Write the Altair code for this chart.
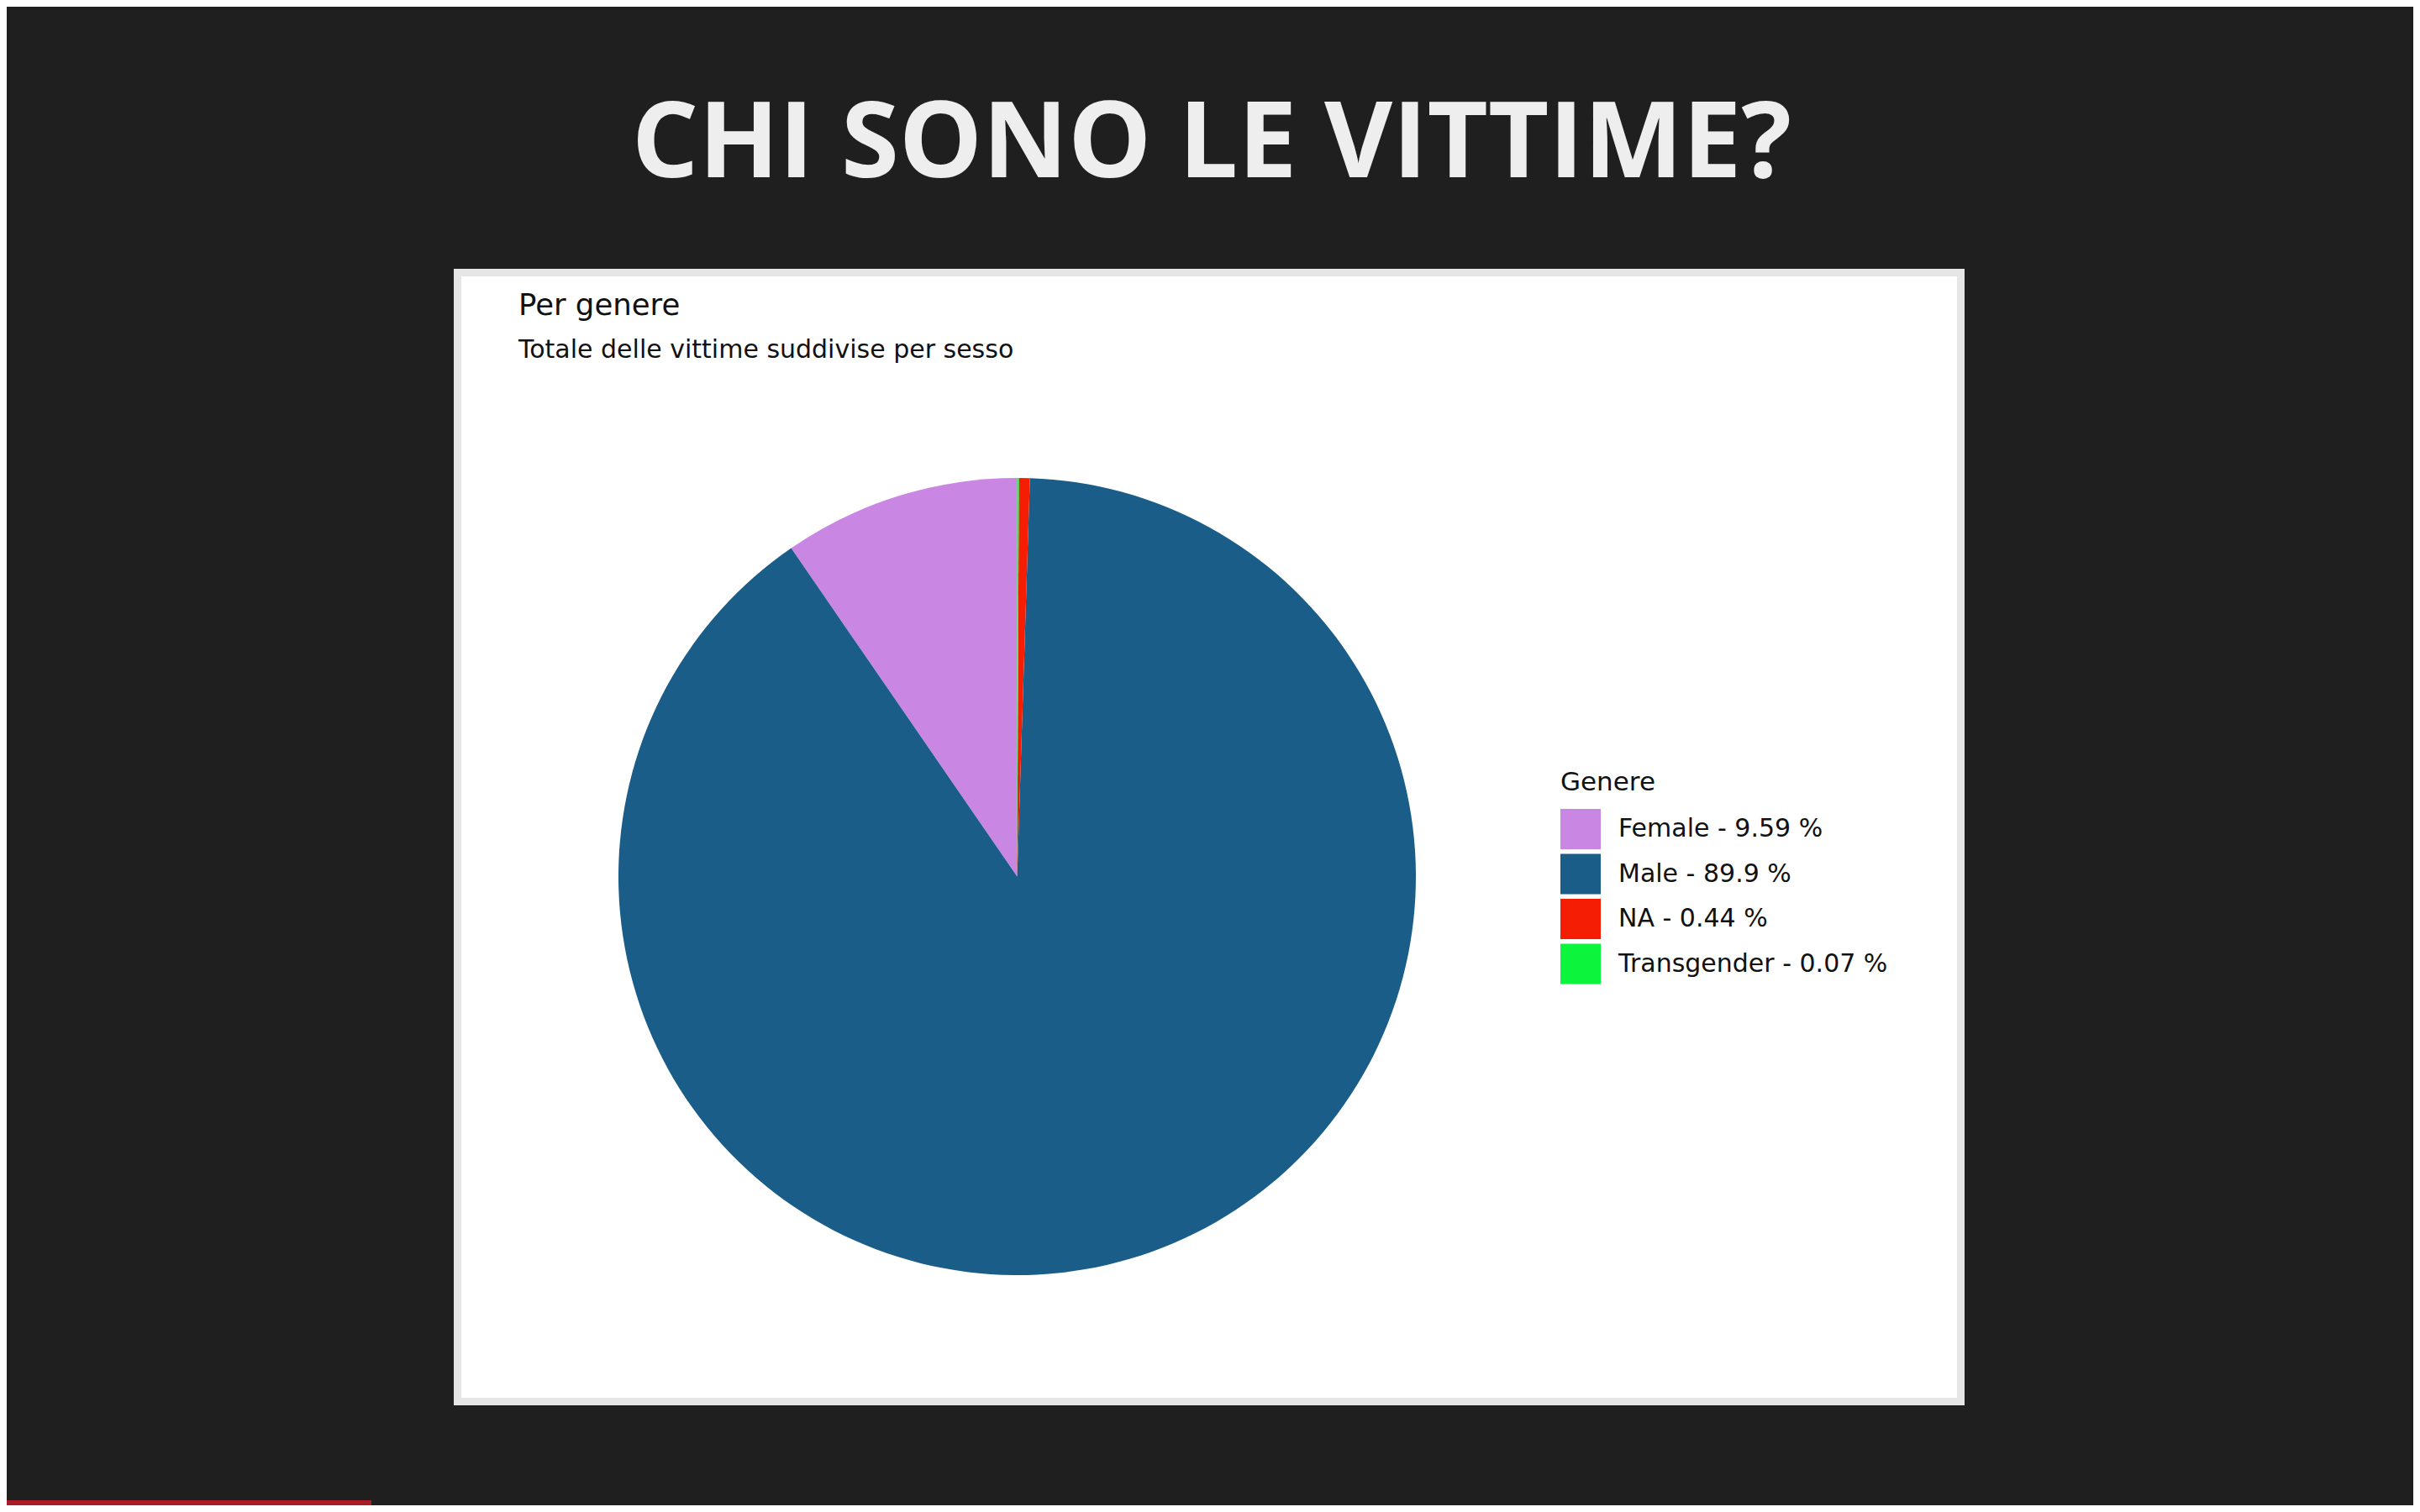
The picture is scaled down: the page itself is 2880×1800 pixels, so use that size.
import altair as alt
import pandas as pd

# ---- data ----
categories = ["Female", "Male", "NA", "Transgender"]
percents = [9.59, 89.9, 0.44, 0.07]
colors = ["#c987e3", "#1b5d89", "#f51e02", "#0cf53c"]
stack_order = [3, 2, 1, 0]  # clockwise from 12 o'clock: Transgender, NA, Male, Female

slide_title = "CHI SONO LE VITTIME?"
chart_title = "Per genere"
chart_subtitle = "Totale delle vittime suddivise per sesso"
legend_title = "Genere"

labels = [f"{c} - {p} %" for c, p in zip(categories, percents)]
df = pd.DataFrame({"cat": categories, "pct": percents, "label": labels, "ord": stack_order})

W, H = 2864, 1784
BG = "#1f1f1f"
one = pd.DataFrame({"k": [0]})

panel_border = alt.Chart(one).mark_rect(color="#e6e6e6").encode(
    x=alt.value(532), x2=alt.value(2330), y=alt.value(312), y2=alt.value(1665)
)
panel = alt.Chart(one).mark_rect(color="#ffffff").encode(
    x=alt.value(541), x2=alt.value(2321), y=alt.value(321), y2=alt.value(1656)
)
big_title = alt.Chart(one).mark_text(
    text=slide_title, font="Open Sans", fontWeight="bold", fontSize=125,
    color="#eeeeee", align="center", baseline="alphabetic"
).encode(x=alt.value(1434), y=alt.value(203))
p_title = alt.Chart(one).mark_text(
    text=chart_title, font="DejaVu Sans", fontSize=35.5, color="#111111",
    align="left", baseline="alphabetic"
).encode(x=alt.value(609), y=alt.value(367))
p_sub = alt.Chart(one).mark_text(
    text=chart_subtitle, font="DejaVu Sans", fontSize=30, color="#111111",
    align="left", baseline="alphabetic"
).encode(x=alt.value(609), y=alt.value(418))
progress = alt.Chart(one).mark_rect(color="#a81c27").encode(
    x=alt.value(0), x2=alt.value(434), y=alt.value(1778), y2=alt.value(1784)
)

pie = alt.Chart(df).mark_arc(radius=474.5, strokeWidth=0).encode(
    theta=alt.Theta("pct:Q", stack=True),
    order=alt.Order("ord:Q"),
    color=alt.Color(
        "label:N",
        scale=alt.Scale(domain=labels, range=colors),
        legend=alt.Legend(
            title=legend_title, orient="none", legendX=1849, legendY=909,
            titleFont="DejaVu Sans", titleFontSize=31, titleFontWeight="normal",
            titleColor="#111111", titlePadding=15,
            labelFont="DejaVu Sans", labelFontSize=30, labelColor="#111111",
            labelOffset=21, labelLimit=0,
            symbolType="square", symbolSize=2304, symbolStrokeWidth=0,
            symbolOpacity=1, rowPadding=5.5, padding=0,
        ),
    ),
    x=alt.value(1202.5),
    y=alt.value(1035.5),
)

chart = alt.layer(panel_border, panel, big_title, p_title, p_sub, progress, pie).properties(
    width=W, height=H, background=BG, padding=0,
    autosize=alt.AutoSizeParams(type="none"),
).configure_view(strokeWidth=0)

chart.save("out.html", embed_options={"renderer": "svg", "actions": False})
